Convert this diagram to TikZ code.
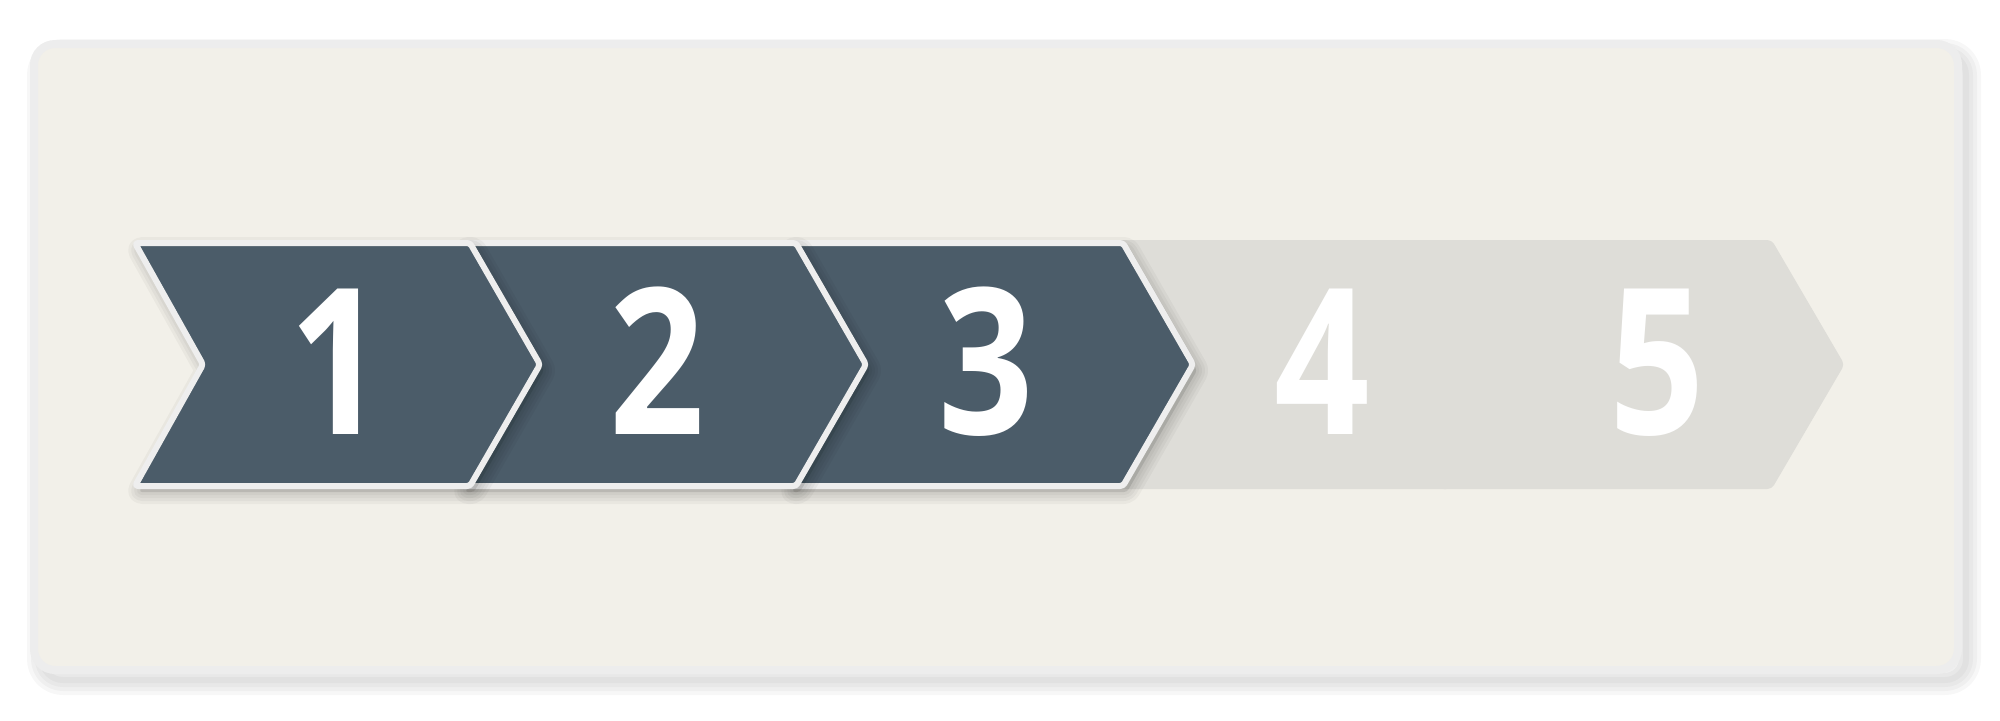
\documentclass[tikz,border=0pt]{standalone}
\usepackage{fontspec}
\usepackage{tikz}
\newfontfamily\digitfont[FakeStretch=0.82]{Open Sans Bold}
\definecolor{cardfill}{HTML}{F2F0E9}
\definecolor{cardline}{HTML}{EDEDED}
\definecolor{slate}{HTML}{4B5C69}
\definecolor{stepline}{HTML}{EEEEEE}
\definecolor{pending}{HTML}{DEDDD8}

\begin{document}
\begin{tikzpicture}[x=0.1mm,y=-0.1mm,line join=round,
  cardshade/.style={preaction={draw=black, draw opacity=#1, line width=3.0mm, transform canvas={xshift=0.8mm, yshift=-1.0mm}},
    preaction={draw=black, draw opacity=#1, line width=2.2mm, transform canvas={xshift=0.8mm, yshift=-1.0mm}},
    preaction={draw=black, draw opacity=#1, line width=1.4mm, transform canvas={xshift=0.8mm, yshift=-1.0mm}},
    preaction={draw=black, draw opacity=#1, line width=0.6mm, transform canvas={xshift=0.8mm, yshift=-1.0mm}}},
  stepshade/.style={preaction={fill=black, fill opacity=0.1, transform canvas={xshift=0.4mm, yshift=-0.6mm}},
    preaction={draw=black, draw opacity=#1, line width=2.4mm, transform canvas={xshift=0.4mm, yshift=-0.6mm}},
    preaction={draw=black, draw opacity=#1, line width=1.8mm, transform canvas={xshift=0.4mm, yshift=-0.6mm}},
    preaction={draw=black, draw opacity=#1, line width=1.2mm, transform canvas={xshift=0.4mm, yshift=-0.6mm}},
    preaction={draw=black, draw opacity=#1, line width=0.6mm, transform canvas={xshift=0.4mm, yshift=-0.6mm}}},
  card/.style={fill=cardfill, draw=cardline, line width=0.8mm, rounded corners=2.1mm, cardshade=0.03},
  donestep/.style={fill=slate, draw=stepline, line width=0.6mm, rounded corners=0.3mm, stepshade=0.035},
  todostep/.style={fill=pending, draw=pending, line width=0.6mm, rounded corners=0.3mm},
  digit/.style={text=white, inner sep=0, anchor=base, font=\digitfont\fontsize{58}{60}\selectfont}]

\useasboundingbox (0,0) rectangle (2000,720);

\draw[card] (34,44) rectangle (1958,670);

% steps still to come
\draw[todostep] (1441,243) -- (1770,243) -- (1841,364.5) -- (1770,486) -- (1441,486) -- (1509,364.5) -- cycle;
\draw[todostep] (1114,243) -- (1449,243) -- (1519,364.5) -- (1449,486) -- (1114,486) -- (1182,364.5) -- cycle;

% steps done, first one on top
\draw[donestep] (788,243) -- (1123,243) -- (1193,364.5) -- (1123,486) -- (788,486) -- (856,364.5) -- cycle;
\draw[donestep] (461,243) -- (796,243) -- (866,364.5) -- (796,486) -- (461,486) -- (529,364.5) -- cycle;
\draw[donestep] (135,243) -- (470,243) -- (540,364.5) -- (470,486) -- (135,486) -- (203,364.5) -- cycle;

\node[digit] (s1) at (337,434) {1};
\node[digit] (s2) at (657,434) {2};
\node[digit] (s3) at (986,434) {3};
\node[digit] (s4) at (1322,434) {4};
\node[digit] (s5) at (1657,434) {5};
\end{tikzpicture}
\end{document}
